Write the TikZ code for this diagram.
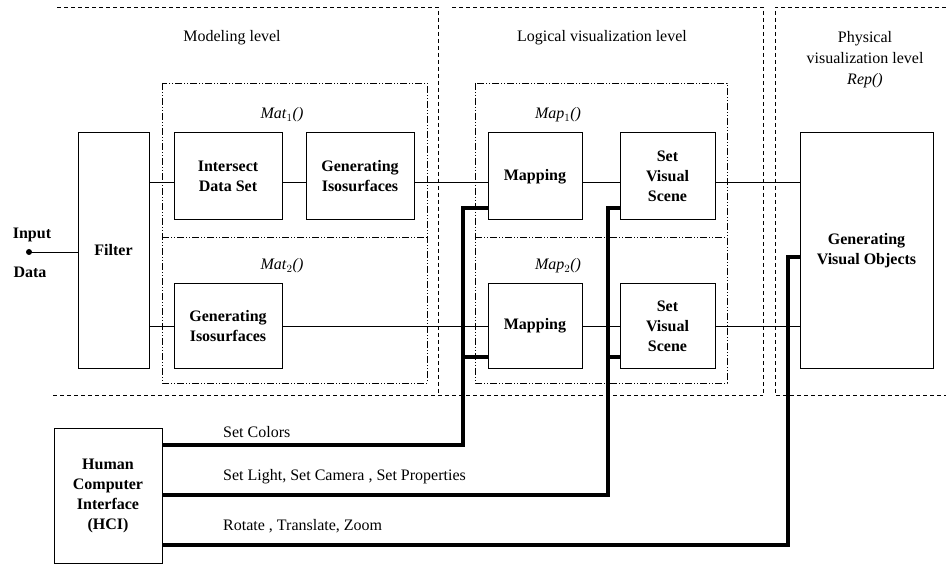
\documentclass[tikz,border=0pt]{standalone}
\usepackage{fontspec}
\setmainfont{Liberation Serif}
\begin{document}
\begin{tikzpicture}[x=1pt, y=-1pt,
  blk/.style={draw, line width=1pt, font=\fontsize{16}{20}\selectfont\bfseries, align=center, inner sep=0pt},
  lbl/.style={font=\fontsize{16}{21}\selectfont, align=center, inner sep=0pt},
  frame/.style={line width=0.9pt, dash pattern=on 4pt off 3pt},
  group/.style={line width=0.9pt, dash pattern=on 7pt off 2pt on 1pt off 2pt on 1pt off 2pt},
  link/.style={line width=0.8pt},
  bus/.style={line width=3.2pt}]
  \useasboundingbox (0,0) rectangle (946,564);
  \def\Y{182} % 上排连线高度
  \def\B{357} % 下排支线高度

  % 三个层次的外框
  \draw[frame] (57,7) -- (438,7) -- (438,395);
  \draw[frame] (53,395) -- (763,395);
  \draw[frame] (452,7) -- (763,7) -- (763,395);
  \draw[frame] (946,7) -- (775,7) -- (775,395) -- (946,395);
  \node[lbl] at (232,38) {Modeling level};
  \node[lbl] at (602,38) {Logical visualization level};
  \node[lbl] at (865,60) {Physical\\visualization level\\\textit{Rep()}};

  % Mat 与 Map 分组框
  \draw[group] (162,83) rectangle (427,383);
  \draw[group] (162,237) -- (427,237);
  \draw[group] (475,83) rectangle (727,383);
  \draw[group] (475,237) -- (727,237);
  \node[lbl] at (282,115) {\textit{Mat}$_1$\textit{()}};
  \node[lbl] at (282,266) {\textit{Mat}$_2$\textit{()}};
  \node[lbl] at (558,115) {\textit{Map}$_1$\textit{()}};
  \node[lbl] at (558,266) {\textit{Map}$_2$\textit{()}};

  % 处理模块
  \node[blk, minimum width=71, minimum height=235] (filter) at (113.5,250.5) {Filter};
  \node[blk, minimum width=108, minimum height=87] (isect) at (228,176.5) {Intersect\\Data Set};
  \node[blk, minimum width=108, minimum height=87] (giso1) at (360,176.5) {Generating\\Isosurfaces};
  \node[blk, minimum width=108, minimum height=84] (giso2) at (228,326) {Generating\\Isosurfaces};
  \node[blk, minimum width=94, minimum height=87] (map1) at (535,176.5) {Mapping};
  \node[blk, minimum width=95, minimum height=87] (svs1) at (667.5,176.5) {Set\\Visual\\Scene};
  \node[blk, minimum width=94, minimum height=84] (map2) at (535,326) {Mapping};
  \node[blk, minimum width=95, minimum height=84] (svs2) at (667.5,326) {Set\\Visual\\Scene};
  \node[blk, minimum width=133, minimum height=235] (gvo) at (866.5,250.5) {Generating\\Visual Objects};
  \node[blk, minimum width=108, minimum height=135] (hci) at (108,495.5) {Human\\Computer\\Interface\\(HCI)};

  % 输入数据
  \coordinate (input) at (29,252);
  \fill (input) circle (3);
  \node[lbl, font=\fontsize{16}{20}\selectfont\bfseries] at (32,235) {Input};
  \node[lbl, font=\fontsize{16}{20}\selectfont\bfseries] at (30,272) {Data};
  \draw[link] (input) -- (input -| filter.west);

  % 数据流（细线）
  \draw[link] (filter.east |- 0,\Y) -- (isect.west |- 0,\Y);
  \draw[link] (isect.east |- 0,\Y) -- (giso1.west |- 0,\Y);
  \draw[link] (giso1.east |- 0,\Y) -- (map1.west |- 0,\Y);
  \draw[link] (map1.east |- 0,\Y) -- (svs1.west |- 0,\Y);
  \draw[link] (svs1.east |- 0,\Y) -- (gvo.west |- 0,\Y);
  \draw[link] (filter.east |- giso2) -- (giso2.west);
  \draw[link] (giso2.east) -- (map2.west);
  \draw[link] (map2.east) -- (svs2.west);
  \draw[link] (svs2.east) -- (gvo.west |- svs2);

  % 人机交互控制（粗线）
  \draw[bus] (hci.east |- 0,445) -| (463,208) -- (map1.west |- 0,208);
  \draw[bus] (463,\B) -- (map2.west |- 0,\B);
  \draw[bus] (hci.east |- 0,495) -| (608,208) -- (svs1.west |- 0,208);
  \draw[bus] (608,\B) -- (svs2.west |- 0,\B);
  \draw[bus] (hci.east |- 0,545) -| (788,257) -- (gvo.west |- 0,257);
  \node[lbl, anchor=west] at (223,432) {Set Colors};
  \node[lbl, anchor=west] at (223,477) {Set Light, Set Camera , Set Properties};
  \node[lbl, anchor=west] at (223,526) {Rotate , Translate, Zoom};
\end{tikzpicture}
\end{document}
